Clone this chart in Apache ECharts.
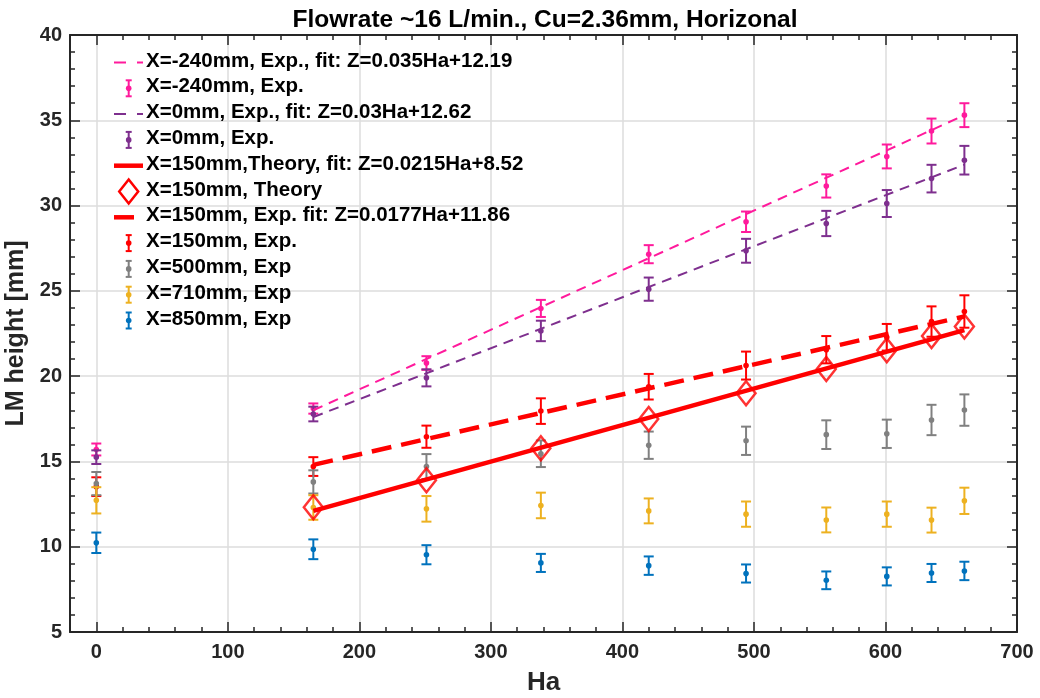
<!DOCTYPE html>
<html><head><meta charset="utf-8">
<script src="https://cdn.jsdelivr.net/npm/echarts@6/dist/echarts.min.js"></script>
<style>html,body{margin:0;padding:0;background:#fff}#c{width:1040px;height:698px}</style>
</head><body><div id="c"></div>
<script>
// ---------- data ----------
const titleText = 'Flowrate ~16 L/min., Cu=2.36mm, Horizonal';
const xAxisName = 'Ha';
const yAxisName = 'LM height [mm]';
const xTickValues = [0, 100, 200, 300, 400, 500, 600, 700];

const ha = [0, 165, 251, 338, 420, 494, 555, 601, 635, 660];

const expNeg240Mean = [15.7, 18.1, 20.77, 23.97, 27.15, 29.05, 31.15, 32.88, 34.37, 35.3];
const expNeg240Err  = [0.35, 0.3, 0.4, 0.5, 0.53, 0.6, 0.68, 0.7, 0.73, 0.7];

const exp0Mean = [15.25, 17.78, 19.9, 22.65, 25.1, 27.35, 28.95, 30.12, 31.58, 32.66];
const exp0Err  = [0.4, 0.43, 0.5, 0.6, 0.68, 0.7, 0.74, 0.79, 0.81, 0.84];

const exp150Mean = [13.52, 14.7, 16.45, 17.95, 19.38, 20.62, 21.55, 22.28, 23.2, 23.79];
const exp150Err  = [0.55, 0.55, 0.65, 0.75, 0.75, 0.82, 0.8, 0.78, 0.89, 0.95];

const exp500Mean = [13.7, 13.8, 14.7, 15.45, 15.95, 16.21, 16.57, 16.62, 17.43, 18.01];
const exp500Err  = [0.68, 0.68, 0.73, 0.78, 0.8, 0.83, 0.84, 0.83, 0.89, 0.92];

const exp710Mean = [12.72, 12.3, 12.22, 12.42, 12.1, 11.91, 11.57, 11.91, 11.56, 12.69];
const exp710Err  = [0.77, 0.72, 0.75, 0.75, 0.73, 0.74, 0.73, 0.74, 0.73, 0.77];

const exp850Mean = [10.23, 9.85, 9.53, 9.05, 8.89, 8.43, 8.03, 8.26, 8.46, 8.58];
const exp850Err  = [0.6, 0.58, 0.56, 0.53, 0.54, 0.53, 0.52, 0.53, 0.53, 0.54];

const theoryHa = [165, 251, 338, 420, 494, 555, 601, 635, 660];
const theory150 = [12.31, 13.9, 15.77, 17.49, 19.0, 20.42, 21.52, 22.35, 22.91];

const fitHa = [165, 660];
const fitNeg240 = [18.0, 35.3];
const fit0 = [17.6, 32.4];
const fitTheory = [12.1, 22.7];
const fit150 = [14.8, 23.5];

const legendNames = [
  'X=-240mm, Exp., fit: Z=0.035Ha+12.19',
  'X=-240mm, Exp.',
  'X=0mm, Exp., fit: Z=0.03Ha+12.62',
  'X=0mm, Exp.',
  'X=150mm,Theory, fit: Z=0.0215Ha+8.52',
  'X=150mm, Theory',
  'X=150mm, Exp. fit: Z=0.0177Ha+11.86',
  'X=150mm, Exp.',
  'X=500mm, Exp',
  'X=710mm, Exp',
  'X=850mm, Exp'
];

// ---------- styles ----------
const C_MAG = '#FF1A9C', C_PUR = '#7E2F8E', C_RED = '#FF0000', C_GRY = '#808080', C_YEL = '#EDB120', C_BLU = '#0072BD';
const AX = '#262626';
const FONT = '"Liberation Sans", Arial, sans-serif';

function zip2(xs, ys) { return xs.map((x, i) => [x, ys[i]]); }
function zip3(xs, ys, es) { return xs.map((x, i) => [x, ys[i], es[i]]); }

function errRender(color) {
  return function (params, api) {
    const x = api.value(0), m = api.value(1), e = api.value(2);
    const pt = api.coord([x, m + e]), pb = api.coord([x, m - e]), pm = api.coord([x, m]);
    const hw = 5;
    const st = { stroke: color, lineWidth: 2, fill: null };
    return { type: 'group', children: [
      { type: 'line', shape: { x1: pt[0], y1: pt[1], x2: pb[0], y2: pb[1] }, style: st },
      { type: 'line', shape: { x1: pt[0] - hw, y1: pt[1], x2: pt[0] + hw, y2: pt[1] }, style: st },
      { type: 'line', shape: { x1: pb[0] - hw, y1: pb[1], x2: pb[0] + hw, y2: pb[1] }, style: st },
      { type: 'circle', shape: { cx: pm[0], cy: pm[1], r: 2.8 }, style: { fill: color } }
    ]};
  };
}
function errSeries(name, color, mean, err) {
  return { name, type: 'custom', xAxisIndex: 0, yAxisIndex: 0, data: zip3(ha, mean, err),
    encode: { x: 0, y: 1 }, renderItem: errRender(color), silent: true };
}
function lineSeries(name, color, ys, width, dash) {
  return { name, type: 'line', xAxisIndex: 0, yAxisIndex: 0, data: zip2(fitHa, ys), showSymbol: false, symbol: 'none',
    lineStyle: { color, width, type: dash || 'solid', cap: 'butt' }, silent: true, animation: false };
}

const series = [
  lineSeries(legendNames[0], C_MAG, fitNeg240, 2, [10, 7]),
  errSeries(legendNames[1], C_MAG, expNeg240Mean, expNeg240Err),
  lineSeries(legendNames[2], C_PUR, fit0, 2, [10, 7]),
  errSeries(legendNames[3], C_PUR, exp0Mean, exp0Err),
  lineSeries(legendNames[4], C_RED, fitTheory, 4.5, 'solid'),
  { name: legendNames[5], type: 'scatter', xAxisIndex: 0, yAxisIndex: 0, data: zip2(theoryHa, theory150),
    symbol: 'diamond', symbolSize: [19, 24],
    itemStyle: { color: 'rgba(255,255,255,0)', borderColor: C_RED, borderWidth: 2.5 }, silent: true },
  lineSeries(legendNames[6], C_RED, fit150, 4.5, [20, 10]),
  errSeries(legendNames[7], C_RED, exp150Mean, exp150Err),
  errSeries(legendNames[8], C_GRY, exp500Mean, exp500Err),
  errSeries(legendNames[9], C_YEL, exp710Mean, exp710Err),
  errSeries(legendNames[10], C_BLU, exp850Mean, exp850Err)
];

// ---------- legend drawn as graphics ----------
const legendKinds = [
  { k: 'line', c: C_MAG, w: 2, d: [12, 11] },
  { k: 'err', c: C_MAG },
  { k: 'line', c: C_PUR, w: 2, d: [12, 11] },
  { k: 'err', c: C_PUR },
  { k: 'line', c: C_RED, w: 4.5, d: null },
  { k: 'diamond', c: C_RED },
  { k: 'line', c: C_RED, w: 4.5, d: [20, 14] },
  { k: 'err', c: C_RED },
  { k: 'err', c: C_GRY },
  { k: 'err', c: C_YEL },
  { k: 'err', c: C_BLU }
];
const LX0 = 114, LX1 = 143, LXC = 128.7, LTX = 146, LY0 = 62.5, LDY = 25.8;
const graphics = [];
legendNames.forEach((nm, i) => {
  const y = LY0 + i * LDY, s = legendKinds[i];
  if (s.k === 'line') {
    graphics.push({ type: 'line', z: 100, shape: { x1: LX0, y1: y, x2: LX1, y2: y },
      style: { stroke: s.c, lineWidth: s.w, lineDash: s.d, lineCap: 'butt' }, silent: true });
  } else if (s.k === 'err') {
    const st = { stroke: s.c, lineWidth: 2 };
    graphics.push({ type: 'line', z: 100, shape: { x1: LXC, y1: y - 8, x2: LXC, y2: y + 8 }, style: st, silent: true });
    graphics.push({ type: 'line', z: 100, shape: { x1: LXC - 3, y1: y - 8, x2: LXC + 3, y2: y - 8 }, style: st, silent: true });
    graphics.push({ type: 'line', z: 100, shape: { x1: LXC - 3, y1: y + 8, x2: LXC + 3, y2: y + 8 }, style: st, silent: true });
    graphics.push({ type: 'circle', z: 100, shape: { cx: LXC, cy: y, r: 2.8 }, style: { fill: s.c }, silent: true });
  } else if (s.k === 'diamond') {
    graphics.push({ type: 'polygon', z: 100, shape: { points: [[LXC, y - 12], [LXC + 9.5, y], [LXC, y + 12], [LXC - 9.5, y]] },
      style: { fill: null, stroke: s.c, lineWidth: 2.5 }, silent: true });
  }
  graphics.push({ type: 'text', z: 100, left: LTX, top: y - 12, silent: true,
    style: { text: nm, font: 'bold 20.5px ' + FONT, fill: '#000' } });
});

// ---------- axes ----------
const baseX = { type: 'value', gridIndex: 0, min: -20, max: 700 };
const baseY = { type: 'value', gridIndex: 0, min: 5, max: 40, interval: 5 };
const option = {
  animation: false,
  backgroundColor: '#fff',
  title: { text: titleText, left: 540, top: 3, textAlign: 'center',
    textStyle: { fontFamily: FONT, fontWeight: 'bold', fontSize: 24.5, color: '#000' } },
  grid: { left: 70, right: 23, top: 35, bottom: 66, containLabel: false, outerBoundsMode: 'none' },
  xAxis: [
    Object.assign({}, baseX, { position: 'bottom',
      name: xAxisName, nameLocation: 'middle', nameGap: 38,
      nameTextStyle: { fontFamily: FONT, fontWeight: 'bold', fontSize: 26, color: AX },
      axisLine: { show: true, onZero: false, lineStyle: { color: AX, width: 2 } },
      axisTick: { show: true, inside: true, length: 10, customValues: xTickValues, lineStyle: { color: AX, width: 1.5 } },
      axisLabel: { show: true, customValues: xTickValues, margin: 10, fontFamily: FONT, fontWeight: 'bold', fontSize: 20, color: AX },
      splitLine: { show: true, lineStyle: { color: '#dcdcdc', width: 1.5 } } }),
    Object.assign({}, baseX, { position: 'bottom', interval: 20,
      axisLine: { show: false, onZero: false },
      axisTick: { show: true, inside: true, length: 5, lineStyle: { color: AX, width: 1.5 } },
      axisLabel: { show: false }, splitLine: { show: false } }),
    Object.assign({}, baseX, { position: 'top',
      axisLine: { show: true, onZero: false, lineStyle: { color: AX, width: 2 } },
      axisTick: { show: true, inside: true, length: 10, customValues: xTickValues, lineStyle: { color: AX, width: 1.5 } },
      axisLabel: { show: false }, splitLine: { show: false } }),
    Object.assign({}, baseX, { position: 'top', interval: 20,
      axisLine: { show: false, onZero: false },
      axisTick: { show: true, inside: true, length: 5, lineStyle: { color: AX, width: 1.5 } },
      axisLabel: { show: false }, splitLine: { show: false } })
  ],
  yAxis: [
    Object.assign({}, baseY, { position: 'left',
      name: yAxisName, nameLocation: 'middle', nameGap: 28, nameRotate: 90,
      nameTextStyle: { fontFamily: FONT, fontWeight: 'bold', fontSize: 25, color: AX },
      axisLine: { show: true, onZero: false, lineStyle: { color: AX, width: 2 } },
      axisTick: { show: true, inside: true, length: 10, lineStyle: { color: AX, width: 1.5 } },
      minorTick: { show: true, splitNumber: 5, length: 5, lineStyle: { color: AX, width: 1.5 } },
      axisLabel: { show: true, margin: 8, fontFamily: FONT, fontWeight: 'bold', fontSize: 20, color: AX },
      splitLine: { show: true, lineStyle: { color: '#dcdcdc', width: 1.5 } } }),
    Object.assign({}, baseY, { position: 'right',
      axisLine: { show: true, onZero: false, lineStyle: { color: AX, width: 2 } },
      axisTick: { show: true, inside: true, length: 10, lineStyle: { color: AX, width: 1.5 } },
      minorTick: { show: true, splitNumber: 5, length: 5, lineStyle: { color: AX, width: 1.5 } },
      axisLabel: { show: false }, splitLine: { show: false } })
  ],
  graphic: graphics,
  series: series
};
const chart = echarts.init(document.getElementById('c'), null, { renderer: 'canvas' });
chart.setOption(option);
</script></body></html>
